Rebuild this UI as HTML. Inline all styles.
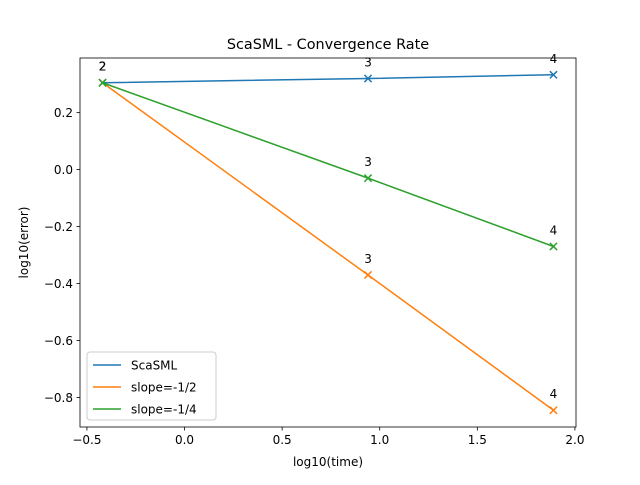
<!DOCTYPE html>
<html><head><meta charset="utf-8"><style>
body{margin:0;background:#fff}
svg{font-family:"DejaVu Sans","Liberation Sans",sans-serif}
</style></head><body>
<svg id="chart" width="640" height="480" viewBox="0 0 640 480">
<rect width="640" height="480" fill="#fff"/>
<g id="plot"></g>
</svg>
<script>
const xTimes=[-0.42,0.94,1.89];
const scasml=[0.305,0.320,0.333];
const slopeHalf=[0.305,-0.370,-0.845];
const slopeQuarter=[0.305,-0.030,-0.270];
const pointLabels=["2","3","4"];
const xTicks=[-0.5,0.0,0.5,1.0,1.5,2.0];
const yTicks=[0.2,0.0,-0.2,-0.4,-0.6,-0.8];
const seriesNames=["ScaSML","slope=-1/2","slope=-1/4"];

const L=80,R=576,T=58,B=427;
const all=scasml.concat(slopeHalf,slopeQuarter);
const xmin0=Math.min(...xTimes),xmax0=Math.max(...xTimes);
const ymin0=Math.min(...all),ymax0=Math.max(...all);
const xm=(xmax0-xmin0)*0.05,ym=(ymax0-ymin0)*0.05;
const xmin=xmin0-xm,xmax=xmax0+xm,ymin=ymin0-ym,ymax=ymax0+ym;
const sx=v=>L+(v-xmin)/(xmax-xmin)*(R-L);
const sy=v=>B-(v-ymin)/(ymax-ymin)*(B-T);
const fmt=v=>v.toFixed(1).replace('-','\u2212');
const NS="http://www.w3.org/2000/svg";
const g=document.getElementById('plot');
function mk(tag,attrs,parent){const e=document.createElementNS(NS,tag);for(const k in attrs)e.setAttribute(k,attrs[k]);(parent||g).appendChild(e);return e;}

const title=mk('text',{x:(L+R)/2,y:49,'text-anchor':'middle','font-size':14.4});
title.textContent='ScaSML - Convergence Rate';



xTicks.forEach(t=>{
  const x=sx(t);
  const tk=mk('line',{x1:x,x2:x,y1:B,y2:B+3.5,stroke:'#000','stroke-width':0.8});
  
  
  const lb=mk('text',{x:x,y:B+17,'text-anchor':'middle','font-size':12});
  lb.textContent=fmt(t);
  
  
});
yTicks.forEach(t=>{
  const y=sy(t);
  const tk=mk('line',{x1:L-3.5,x2:L,y1:y,y2:y,stroke:'#000','stroke-width':0.8});
  
  
  const lb=mk('text',{x:L-7,y:y+4.5,'text-anchor':'end','font-size':12});
  lb.textContent=fmt(t);
  
  
});
const xt=mk('text',{x:(L+R)/2,y:466,'text-anchor':'middle','font-size':12});
xt.textContent='log10(time)';


const yt=mk('text',{x:0,y:0,'text-anchor':'middle','font-size':12,transform:`translate(28,${(T+B)/2}) rotate(-90)`});
yt.textContent='log10(error)';



const colors=['#1f77b4','#ff7f0e','#2ca02c'];
[scasml,slopeHalf,slopeQuarter].forEach((ser,si)=>{
  const pts=ser.map((v,i)=>sx(xTimes[i])+','+sy(v)).join(' ');
  const pl=mk('polyline',{points:pts,fill:'none',stroke:colors[si],'stroke-width':1.5});
  
  
  ser.forEach((v,i)=>{
    const x=sx(xTimes[i]),y=sy(v),s=3.6;
    const m=mk('path',{d:`M${x-s},${y-s}L${x+s},${y+s}M${x-s},${y+s}L${x+s},${y-s}`,stroke:colors[si],'stroke-width':1.5});
    
    
    const lb=mk('text',{x:x,y:y-12,'text-anchor':'middle','font-size':12});
    lb.textContent=pointLabels[i];
    
    
  });
});

const frame=mk('rect',{x:L,y:T,width:R-L,height:B-T,fill:'none',stroke:'#000','stroke-width':0.8});



const lg=mk('g',{});


mk('rect',{x:87,y:352,width:129,height:68,rx:3,fill:'#fff','fill-opacity':0.8,stroke:'#ccc','stroke-width':1},lg);
seriesNames.forEach((n,i)=>{
  const y=365+i*22;
  const e=mk('g',{},lg);
  
  
  mk('line',{x1:93,x2:121,y1:y,y2:y,stroke:colors[i],'stroke-width':1.5},e);
  const t=mk('text',{x:131,y:y+4.5,'font-size':12},e);
  t.textContent=n;
});
</script>
</body></html>
